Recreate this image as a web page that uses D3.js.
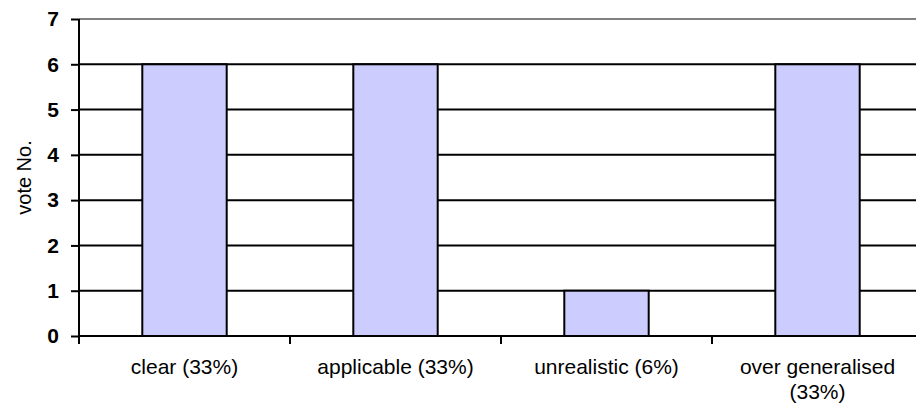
<!DOCTYPE html>
<html>
<head>
<meta charset="utf-8">
<script src="https://cdn.jsdelivr.net/npm/d3@7"></script>
<style>
  body { margin: 0; background: #fff; }
  text { font-family: "Liberation Sans", Arial, sans-serif; }
</style>
</head>
<body>
<div id="chart"></div>
<script>
// categories and vote counts
var categories = ['clear (33%)', 'applicable (33%)', 'unrealistic (6%)', 'over generalised|(33%)'];
var votes = [6, 6, 1, 6];
var yTicks = [0, 1, 2, 3, 4, 5, 6, 7];

function main(){
    var W = 916, H = 409;
    var margin = { top: 19, right: -7, bottom: 73, left: 79 },
        width  = W - margin.left - margin.right,
        height = H - margin.top - margin.bottom;

    var data = categories.map(function(c, i){ return { cat: c, v: votes[i] }; });

    var x = d3.scaleBand()
              .domain(categories)
              .range([0, width])
              .paddingInner(0)
              .paddingOuter(0);
    var y = d3.scaleLinear()
              .domain([0, 7])
              .range([height, 0]);

    var svg = d3.select('#chart').append('svg')
                .attr('width', W)
                .attr('height', H)
             .append('g')
                .attr('transform', 'translate(' + margin.left + ',' + margin.top + ')');

    // gridlines (top one grey, rest black)
    svg.selectAll('.grid')
       .data(yTicks.filter(function(t){ return t > 0; }))
     .enter().append('line')
       .attr('x1', 0).attr('x2', width)
       .attr('y1', function(d){ return y(d); })
       .attr('y2', function(d){ return y(d); })
       .attr('stroke', function(d){ return d === 7 ? '#808080' : '#000'; })
       .attr('stroke-width', 2);

    // bars
    var bw = x.bandwidth() * 0.4;
    svg.selectAll('.bar')
       .data(data)
     .enter().append('rect')
       .attr('class', 'bar')
       .attr('x', function(d){ return x(d.cat) + (x.bandwidth() - bw) / 2; })
       .attr('width', bw)
       .attr('y', function(d){ return y(d.v); })
       .attr('height', function(d){ return height - y(d.v); })
       .attr('fill', '#ccccff')
       .attr('stroke', '#000')
       .attr('stroke-width', 2);

    // y axis
    var yAxis = svg.append('g')
       .call(d3.axisLeft(y).tickValues(yTicks).tickFormat(d3.format('d')).tickSize(8).tickPadding(12));
    yAxis.select('.domain').attr('stroke-width', 2).attr('d', 'M0,' + height + 'V0');
    yAxis.selectAll('.tick line').attr('stroke-width', 2);
    yAxis.selectAll('.tick text')
         .attr('font-size', 21).attr('font-weight', 'bold')
         .attr('font-family', '"Liberation Sans", Arial, sans-serif')
         .attr('fill', '#000');

    // x axis: ticks on category boundaries
    var xAxis = svg.append('g')
       .attr('transform', 'translate(0,' + height + ')');
    xAxis.append('line')
       .attr('x1', 0).attr('x2', width)
       .attr('stroke', '#000').attr('stroke-width', 2);
    xAxis.selectAll('.xt')
       .data(categories.slice(1))
     .enter().append('line')
       .attr('x1', function(d){ return x(d); })
       .attr('x2', function(d){ return x(d); })
       .attr('y1', 0).attr('y2', 8)
       .attr('stroke', '#000').attr('stroke-width', 2);
    xAxis.append('line')
       .attr('x1', 0).attr('x2', 0).attr('y1', 0).attr('y2', 8)
       .attr('stroke', '#000').attr('stroke-width', 2);

    var lbl = xAxis.selectAll('.xl')
       .data(categories)
     .enter().append('text')
       .attr('text-anchor', 'middle')
       .attr('font-size', 21)
       .attr('fill', '#000')
       .attr('transform', function(d){ return 'translate(' + (x(d) + x.bandwidth() / 2) + ',38)'; });
    lbl.selectAll('tspan')
       .data(function(d){ return d.split('|'); })
     .enter().append('tspan')
       .attr('x', 0)
       .attr('dy', function(d, i){ return i === 0 ? 0 : 25; })
       .text(function(d){ return d; });

    // y title
    svg.append('text')
       .attr('transform', 'translate(' + (31 - margin.left) + ',' + (y(3.5)) + ') rotate(-90)')
       .attr('text-anchor', 'middle')
       .attr('font-size', 20)
       .attr('fill', '#000')
       .text('vote No.');
}

main();
</script>
</body>
</html>
